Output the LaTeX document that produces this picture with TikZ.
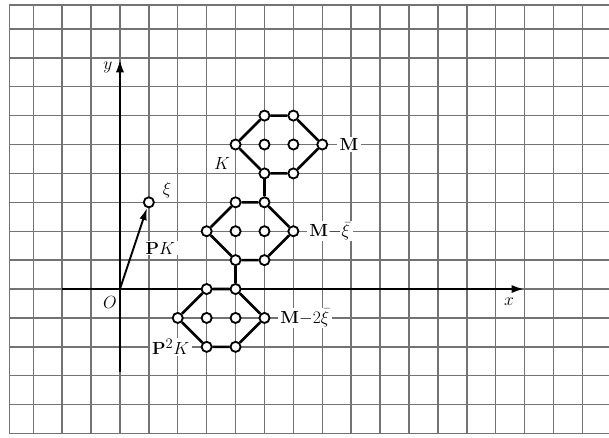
\documentclass[tikz,border=0pt]{standalone}
\usetikzlibrary{arrows.meta,positioning}
\tikzset{
  gridline/.style={black!55,line width=1.4pt},
  axis/.style={line width=2.4pt,-{Latex[length=4.5mm,width=2.8mm]}},
  vec/.style={line width=1.8pt,-{Latex[length=4.2mm,width=2.6mm]}},
  site/.style={circle,draw,fill=white,line width=1.8pt,minimum size=3.5mm,inner sep=0pt},
  bond/.style={line width=2.6pt},
  tag/.style={fill=white,inner xsep=2.5pt,inner ysep=1pt},
}
\begin{document}
\begin{tikzpicture}[x=1cm,y=1cm,font=\fontsize{19}{22}\selectfont]
    \useasboundingbox (-4.15,-5.12) rectangle (16.92,10);
    \fill[white] (-4.15,-5.12) rectangle (16.92,10);
    % grid and frame
    \foreach \i in {-3,...,16} \draw[gridline] (\i,-5) -- (\i,9.83);
    \foreach \j in {-5,...,9} \draw[gridline] (-3.83,\j) -- (16.92,\j);
    \draw[gridline] (-3.83,-5) -- (-3.83,9.83) -- (16.92,9.83);
    % axes
    \coordinate (O) at (0,0);
    \coordinate (xstart) at (-2,0);
    \coordinate (xend) at (14,0);
    \coordinate (ystart) at (0,-2.87);
    \coordinate (yend) at (0,7.95);
    \draw[axis] (xstart) -- (xend);
    \draw[axis] (ystart) -- (yend);
    \node (xlbl) at (13.46,-0.45) {$x$};
    \node (ylbl) at (-0.42,7.65) {$y$};
    \node (olbl) at (-0.35,-0.45) {$O$};
    % the three lattices
    \foreach \s/\dx/\dy in {a/0/0,b/-1/-3,c/-2/-6}{
      \node[site] (\s1) at (4+\dx,5+\dy) {};
      \node[site] (\s2) at (5+\dx,6+\dy) {};
      \node[site] (\s3) at (6+\dx,6+\dy) {};
      \node[site] (\s4) at (7+\dx,5+\dy) {};
      \node[site] (\s5) at (6+\dx,4+\dy) {};
      \node[site] (\s6) at (5+\dx,4+\dy) {};
      \node[site] (\s7) at (5+\dx,5+\dy) {};
      \node[site] (\s8) at (6+\dx,5+\dy) {};
      \draw[bond] (\s1) -- (\s2) -- (\s3) -- (\s4) -- (\s5) -- (\s6) -- (\s1);
    }
    \draw[bond] (a6) -- (b3);
    \draw[bond] (b6) -- (c3);
    % shift vector
    \node[site] (xi) at (1,3) {};
    \draw[vec] (O) -- (xi);
    \node (xilbl) at (1.63,3.43) {$\xi$};
    \node[tag] (pk) at (1.4,1.42) {$\mathbf{P}K$};
    % labels
    \node (klbl) at (3.53,4.36) {$K$};
    \node[tag,right=0.3 of a4] (mA) {$\mathbf{M}$};
    \node[tag,right=0.25 of b4] (mB) {$\mathbf{M}{-}\bar{\xi}$};
    \node[tag,right=0.25 of c4] (mC) {$\mathbf{M}{-}2\bar{\xi}$};
    \node[tag,left=0.3 of c6] (ppk) {$\mathbf{P}^2K$};
\end{tikzpicture}
\end{document}
